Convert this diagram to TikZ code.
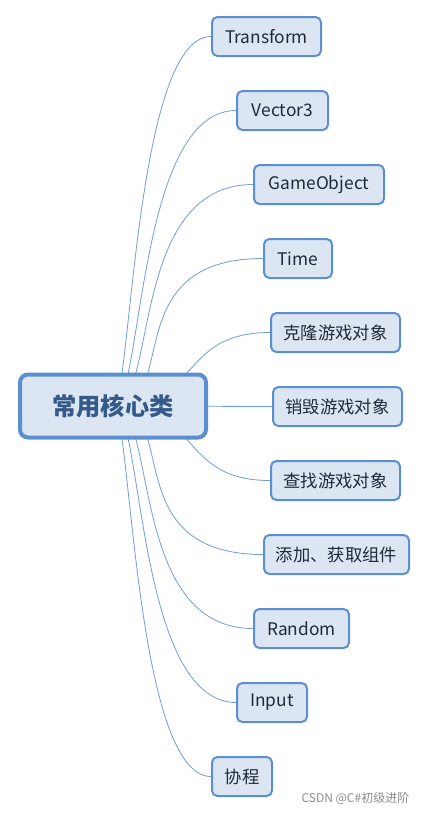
\documentclass[tikz,border=0pt]{standalone}
\usepackage{fontspec}
\setmainfont{Noto Sans CJK SC}
\usetikzlibrary{backgrounds}
\definecolor{boxfill}{HTML}{DCE6F2}
\definecolor{boxline}{HTML}{5B8FD0}
\definecolor{linkline}{HTML}{6F9DD9}
\definecolor{roottext}{HTML}{345A8A}
\definecolor{leaftext}{HTML}{1F2A3C}
\begin{document}
\begin{tikzpicture}[x=0.75pt,y=-0.75pt,
    topic/.style={draw=boxline,line width=3pt,fill=boxfill,rounded corners=6pt,
        minimum width=139.5pt,minimum height=47.25pt,inner sep=0pt,
        text=roottext,font=\fontsize{18.2pt}{21pt}\selectfont\bfseries},
    subtopic/.style={draw=boxline,line width=1.5pt,fill=boxfill,rounded corners=4pt,
        minimum height=29.25pt,inner sep=0pt,
        text=leaftext,font=\fontsize{13pt}{15pt}\selectfont},
    branch/.style={draw=linkline,line width=0.6pt}]
        \useasboundingbox (0,0) rectangle (428,814);

        \node[topic] (core) at (113,406) {常用核心类};

        \node[subtopic,minimum width=81.75pt] (transform) at (266.5,36.5) {Transform};
        \node[subtopic,minimum width=68.25pt] (vector) at (282.5,110.5) {Vector3};
        \node[subtopic,minimum width=97.5pt] (gameobj) at (319,184.5) {GameObject};
        \node[subtopic,minimum width=51pt] (time) at (298,258.5) {Time};
        \node[subtopic,minimum width=96.75pt] (clone) at (335.5,332.5) {克隆游戏对象};
        \node[subtopic,minimum width=96.75pt] (destroy) at (337.5,406.5) {销毁游戏对象};
        \node[subtopic,minimum width=96.75pt] (find) at (335.5,480.5) {查找游戏对象};
        \node[subtopic,minimum width=108.75pt] (component) at (336.5,554.5) {添加、获取组件};
        \node[subtopic,minimum width=71.25pt] (random) at (301.5,628.5) {Random};
        \node[subtopic,minimum width=52.5pt] (input) at (272,702.5) {Input};
        \node[subtopic,minimum width=45pt] (coroutine) at (242,776.5) {协程};

        \node[anchor=east,text=black!45,font=\fontsize{9pt}{11pt}\selectfont]
            (mark) at (414,798) {CSDN @C\#初级进阶};

        % curved branches behind the boxes
        \begin{pgfonlayer}{background}
        \draw[branch] (core.center) .. controls +(18,0) and +(-77,0) .. (transform.west);
        \draw[branch] (core.center) .. controls +(30,0) and +(-100,0) .. (vector.west);
        \draw[branch] (core.center) .. controls +(45,0) and +(-125,0) .. (gameobj.west);
        \draw[branch] (core.center) .. controls +(68,0) and +(-148,0) .. (time.west);
        \draw[branch] (core.center) .. controls +(89,0) and +(-92,0) .. (clone.west);
        \draw[branch] (core.center) -- (destroy.west);
        \draw[branch] (core.center) .. controls +(89,0) and +(-92,0) .. (find.west);
        \draw[branch] (core.center) .. controls +(68,0) and +(-148,0) .. (component.west);
        \draw[branch] (core.center) .. controls +(45,0) and +(-125,0) .. (random.west);
        \draw[branch] (core.center) .. controls +(30,0) and +(-100,0) .. (input.west);
        \draw[branch] (core.center) .. controls +(18,0) and +(-77,0) .. (coroutine.west);
        \end{pgfonlayer}
\end{tikzpicture}
\end{document}
